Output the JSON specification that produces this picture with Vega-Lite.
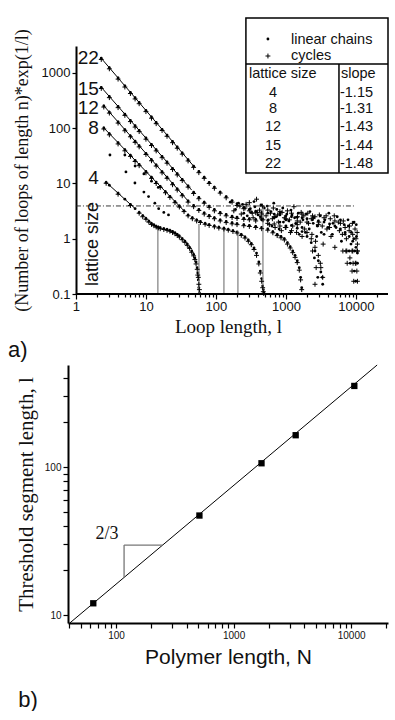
{
"$schema": "https://vega.github.io/schema/vega-lite/v6.json",
"background": "white",
"padding": {"top": 17, "left": 8, "right": 0, "bottom": 0},
"spacing": 2,
"config": {
  "view": {"stroke": null},
  "axis": {"domainColor": "#000", "domainWidth": 2, "tickColor": "#000", "tickWidth": 1.2, "labelColor": "#111", "titleColor": "#111", "labelFont": "Liberation Sans", "titleFontWeight": "normal", "grid": false, "labelOverlap": false, "labelFlush": false}
},
"datasets": {
  "pts": [
    {"x":2.7,"a":10.5,"b":10.1},{"x":3,"a":9.3},{"x":4,"a":6.7,"b":6.4},{"x":5,"a":5.2},{"x":6,"a":4.2,"b":4.0},{"x":7,"a":3.5},{"x":8,"a":3.0,"b":2.9},{"x":9,"a":2.63,"b":2.5},{"x":10,"a":2.33,"b":2.25},{"x":11,"a":2.08,"b":2.0},{"x":12,"a":1.89,"b":1.82},{"x":13,"a":1.78,"b":1.72},{"x":14,"a":1.68,"b":1.63},{"x":15,"a":1.62,"b":1.57},{"x":16,"a":1.58,"b":1.52},{"x":18,"a":1.53,"b":1.47},{"x":20,"a":1.48,"b":1.42},{"x":22,"a":1.42,"b":1.37},{"x":24,"a":1.36,"b":1.3},{"x":26,"a":1.28,"b":1.23},{"x":28,"a":1.2,"b":1.15},{"x":30,"a":1.12,"b":1.07},{"x":33,"a":1.0,"b":0.96},{"x":36,"a":0.9,"b":0.86},{"x":39,"a":0.8,"b":0.76},{"x":42,"a":0.7,"b":0.67},{"x":45,"a":0.6,"b":0.57},{"x":48,"a":0.52,"b":0.49},{"x":50,"a":0.45,"b":0.42},{"x":52,"a":0.38,"b":0.35},{"x":54,"a":0.3,"b":0.28},{"x":55,"a":0.24,"b":0.22},{"x":56,"a":0.18,"b":0.2},{"x":57,"a":0.13,"b":0.15},{"x":58,"a":0.105,"b":0.12},
    {"x":3.06,"a":32.8},{"x":5.0,"a":32.8},{"x":5.18,"a":16.2},{"x":7.0,"a":20.7},{"x":6.96,"a":10.2},{"x":9.35,"a":14.9},{"x":9.35,"a":7.0},{"x":10.9,"a":5.8},{"x":13.4,"a":4.4},{"x":15.2,"a":3.5},{"x":18,"a":3.0},{"x":12,"a":11},{"x":15,"a":8.5},{"x":21,"a":2.7},
    {"x":2.5,"a":101,"b":97},{"x":3,"a":80,"b":76},{"x":4,"a":55,"b":52},{"x":5,"a":41,"b":39},{"x":6,"a":32.4,"b":31},{"x":7,"a":26.3,"b":25},{"x":8,"a":22.2,"b":21},{"x":10,"a":16.5,"b":15.6},{"x":12,"a":13,"b":12.4},{"x":14,"a":10.6,"b":10},{"x":16,"a":8.9,"b":8.5},{"x":19,"a":7.1,"b":6.8},{"x":22,"a":5.86,"b":5.6},{"x":26,"a":4.71,"b":4.5},{"x":30,"a":3.91,"b":3.75},{"x":35,"a":3.2,"b":3.1},{"x":40,"a":2.68,"b":2.6},{"x":46,"a":2.4,"b":2.3},{"x":53,"a":2.2,"b":2.1},{"x":60,"a":2.05,"b":1.97},{"x":70,"a":1.9,"b":1.83},{"x":80,"a":1.8,"b":1.74},{"x":95,"a":1.7,"b":1.64},{"x":110,"a":1.62,"b":1.56},{"x":130,"a":1.55,"b":1.5},{"x":150,"a":1.48,"b":1.43},{"x":175,"a":1.4,"b":1.35},{"x":200,"a":1.32,"b":1.27},{"x":230,"a":1.2,"b":1.15},{"x":260,"a":1.08,"b":1.03},{"x":290,"a":0.95,"b":0.9},{"x":320,"a":0.82,"b":0.78},{"x":350,"a":0.68,"b":0.64},{"x":380,"a":0.55,"b":0.5},{"x":410,"a":0.38,"b":0.35},{"x":430,"a":0.26,"b":0.24},{"x":450,"a":0.19,"b":0.17},{"x":465,"a":0.14,"b":0.13},{"x":475,"a":0.12,"b":0.11},{"x":482,"a":0.105,"b":0.102},
    {"x":2.5,"a":254,"b":242},{"x":3,"a":196,"b":188},{"x":4,"a":130,"b":124},{"x":5,"a":94.7,"b":90},{"x":6,"a":72.9,"b":70},{"x":7,"a":58.3,"b":55.5},{"x":8,"a":48.2,"b":46},{"x":10,"a":35.1,"b":33.5},{"x":12,"a":27,"b":25.8},{"x":14,"a":21.7,"b":20.7},{"x":17,"a":16.4,"b":15.6},{"x":20,"a":13,"b":12.4},{"x":24,"a":10,"b":9.5},{"x":28,"a":8.0,"b":7.6},{"x":33,"a":6.3,"b":6.0},{"x":40,"a":4.84,"b":4.6},{"x":48,"a":4.0,"b":3.8},{"x":57,"a":3.4,"b":3.25},{"x":68,"a":2.95,"b":2.8},{"x":80,"a":2.65,"b":2.52},{"x":95,"a":2.4,"b":2.3},{"x":115,"a":2.2,"b":2.1},{"x":140,"a":2.05,"b":1.96},{"x":170,"a":1.95,"b":1.86},{"x":200,"a":1.88,"b":1.8},{"x":250,"a":1.8,"b":1.72},{"x":300,"a":1.75,"b":1.67},{"x":370,"a":1.68,"b":1.6},{"x":450,"a":1.6,"b":1.52},{"x":550,"a":1.5,"b":1.43},{"x":650,"a":1.35,"b":1.28},{"x":750,"a":1.2,"b":1.14},{"x":850,"a":1.1,"b":1.04},{"x":950,"a":1.0,"b":0.95},{"x":1050,"a":0.85,"b":0.8},{"x":1150,"a":0.72,"b":0.68},{"x":1250,"a":0.6,"b":0.56},{"x":1350,"a":0.5,"b":0.46},{"x":1450,"a":0.4,"b":0.37},{"x":1550,"a":0.3,"b":0.27},{"x":1620,"a":0.2,"b":0.18},{"x":1680,"a":0.13,"b":0.12},
    {"x":2.3,"a":551,"b":525},{"x":3,"a":376,"b":358},{"x":4,"a":248,"b":236},{"x":5,"a":180,"b":171},{"x":6,"a":138.6,"b":132},{"x":7,"a":110.8,"b":105},{"x":8,"a":91.4,"b":87},{"x":10,"a":66.5,"b":63.3},{"x":12,"a":51.1,"b":48.7},{"x":14,"a":40.8,"b":38.9},{"x":17,"a":30.8,"b":29.3},{"x":20,"a":24.5,"b":23.3},{"x":24,"a":18.8,"b":17.9},{"x":28,"a":15.0,"b":14.3},{"x":33,"a":11.9,"b":11.3},{"x":40,"a":9.0,"b":8.6},{"x":48,"a":6.95,"b":6.6},{"x":57,"a":5.6,"b":5.3},{"x":68,"a":4.6,"b":4.4},{"x":80,"a":3.9,"b":3.7},{"x":95,"a":3.4,"b":3.2},{"x":115,"a":3.0,"b":2.85},{"x":140,"a":2.75,"b":2.6},{"x":170,"a":2.55,"b":2.42},{"x":200,"a":2.45,"b":2.33},{"x":250,"a":2.35,"b":2.24},{"x":300,"a":2.3,"b":2.2},{"x":370,"a":2.25,"b":2.1},{"x":450,"a":2.2,"b":2.3},{"x":550,"a":2.15,"b":1.9},{"x":680,"a":2.4,"b":1.85},{"x":820,"a":2.0,"b":1.7},{"x":1000,"a":2.2,"b":1.6},{"x":1200,"a":1.75,"b":1.4},{"x":1450,"a":1.55,"b":1.8},{"x":1700,"a":1.35,"b":1.1},{"x":2000,"a":1.1,"b":1.3},{"x":2300,"a":0.85,"b":1.0},{"x":2600,"a":0.6,"b":0.7},{"x":2900,"a":0.4,"b":0.5},{"x":3150,"a":0.25,"b":0.3},{"x":3350,"a":0.15,"b":0.2},
    {"x":2.3,"a":1846,"b":1760},{"x":3,"a":1246,"b":1190},{"x":4,"a":814,"b":775},{"x":5,"a":585,"b":557},{"x":6,"a":447,"b":425},{"x":7,"a":356,"b":339},{"x":8,"a":292,"b":278},{"x":10,"a":210,"b":200},{"x":12,"a":160,"b":152},{"x":14,"a":127,"b":121},{"x":17,"a":95.6,"b":91},{"x":20,"a":75.1,"b":71.5},{"x":24,"a":57.5,"b":54.8},{"x":28,"a":45.7,"b":43.5},{"x":33,"a":35.8,"b":34},{"x":40,"a":26.9,"b":25.6},{"x":48,"a":20.6,"b":19.6},{"x":57,"a":16.5,"b":15.7},{"x":68,"a":13,"b":12.4},{"x":80,"a":10.5,"b":10},{"x":95,"a":8.6,"b":8.2},{"x":115,"a":7.0,"b":6.7},{"x":140,"a":5.8,"b":5.5},{"x":170,"a":4.9,"b":4.6},{"x":200,"a":4.3,"b":4.0},{"x":250,"a":3.7,"b":3.5},{"x":300,"a":3.4,"b":3.2},{"x":370,"a":3.15,"b":2.95},{"x":450,"a":3.0,"b":2.8},{"x":550,"a":2.9,"b":3.3},{"x":680,"a":2.8,"b":2.5},{"x":820,"a":2.7,"b":3.1},{"x":1000,"a":2.6,"b":2.3},{"x":1200,"a":2.5,"b":2.9},{"x":1450,"a":2.45,"b":2.1},{"x":1700,"a":2.4,"b":2.8},{"x":2000,"a":2.3,"b":2.0},{"x":2400,"a":2.2,"b":2.6},{"x":2900,"a":2.1,"b":1.8},{"x":3500,"a":2.0,"b":2.4},{"x":4200,"a":1.85,"b":1.6},{"x":5000,"a":1.7,"b":2.1},{"x":6000,"a":1.5,"b":1.9},{"x":7000,"a":1.3,"b":1.6},{"x":8000,"a":1.1,"b":1.4},{"x":9000,"a":0.9,"b":1.2},{"x":10000,"a":0.7,"b":1.0},{"x":10500,"a":0.55,"b":0.8},
    {"x":160,"a":4.6},{"x":180,"b":3.2},{"x":210,"a":4.4},{"x":230,"b":2.8},{"x":240,"a":4.2},{"x":260,"b":3.6},{"x":280,"a":2.6},{"x":300,"b":4.5},{"x":320,"a":3.0},{"x":340,"b":2.4},{"x":360,"a":3.8},{"x":380,"b":5.2},{"x":400,"a":2.7},{"x":420,"b":3.3},{"x":440,"a":4.1},{"x":470,"b":2.2},{"x":490,"a":3.6},
    {"x":190,"a":3.4},{"x":220,"b":3.9},{"x":250,"a":2.9},{"x":270,"b":4.2},{"x":310,"a":3.5},{"x":330,"b":2.9},{"x":350,"a":4.7},{"x":390,"b":3.0},{"x":430,"a":2.5},{"x":460,"b":3.9},
    {"x":520,"b":2.6},{"x":540,"a":3.9},{"x":580,"b":1.8},{"x":610,"a":3.1},{"x":640,"b":2.3},{"x":670,"a":4.4},{"x":700,"b":1.6},{"x":740,"a":3.4},{"x":780,"b":2.0},{"x":820,"a":2.9},{"x":860,"b":1.4},{"x":900,"a":3.6},{"x":950,"b":2.4},{"x":1000,"a":1.7},{"x":1050,"b":3.2},{"x":1100,"a":2.1},{"x":1160,"b":1.3},{"x":1220,"a":2.7},{"x":1300,"b":3.8},{"x":1380,"a":1.9},{"x":1460,"b":2.5},{"x":1550,"a":1.2},{"x":1650,"b":3.0},{"x":1750,"a":2.2},{"x":1850,"b":1.5},{"x":1950,"a":2.8},
    {"x":560,"a":2.2},{"x":600,"b":2.9},{"x":630,"a":1.7},{"x":660,"b":3.6},{"x":720,"a":2.5},{"x":760,"b":2.7},{"x":800,"a":1.5},{"x":880,"b":3.0},{"x":920,"a":2.0},{"x":980,"b":1.6},{"x":1030,"a":2.8},{"x":1120,"b":2.2},{"x":1180,"a":3.3},{"x":1250,"b":1.7},{"x":1330,"a":2.4},{"x":1420,"b":1.3},{"x":1500,"a":2.9},{"x":1600,"b":2.0},{"x":1700,"a":1.6},{"x":1800,"b":2.6},{"x":1900,"a":1.3},{"x":2050,"b":2.9},{"x":2150,"a":1.5},{"x":2300,"b":2.3},{"x":2450,"a":1.9},{"x":2600,"b":2.5},{"x":2750,"a":1.1},{"x":2950,"b":2.0},{"x":3100,"a":2.6},{"x":3300,"b":1.7},{"x":3500,"a":1.2},{"x":3750,"b":2.6},{"x":4000,"a":1.6},{"x":4300,"b":2.3},{"x":4600,"a":1.2},{"x":4900,"b":2.6},{"x":5200,"a":1.6},{"x":5600,"b":2.0},{"x":6000,"a":2.2},{"x":6400,"b":1.2},{"x":6800,"a":1.8},{"x":7300,"b":1.0},{"x":7700,"a":2.2},{"x":8100,"b":1.7},{"x":8500,"a":0.8},{"x":8900,"b":1.9},{"x":9300,"a":1.0},{"x":9700,"b":1.5},{"x":10100,"a":1.8},{"x":10400,"b":1.3},
    {"x":2100,"b":1.9},{"x":2200,"a":3.1},{"x":2350,"b":1.2},{"x":2500,"a":2.4},{"x":2650,"b":0.9},{"x":2800,"a":1.7},{"x":3000,"b":2.7},{"x":3200,"a":1.3},{"x":3400,"b":0.8},{"x":3600,"a":2.2},{"x":3850,"b":1.5},{"x":4100,"a":2.9},{"x":4400,"b":1.1},{"x":4700,"a":1.9},{"x":5000,"b":0.7},{"x":5400,"a":2.5},{"x":5800,"b":1.4},{"x":6200,"a":0.9},{"x":6600,"b":2.1},{"x":7000,"a":1.2},{"x":7400,"b":0.6},{"x":7800,"a":1.7},{"x":8200,"b":0.45},{"x":8600,"a":1.3},{"x":9000,"b":0.6},{"x":9400,"a":2.0},{"x":9800,"b":0.36},{"x":10200,"a":1.1},{"x":10500,"b":0.6},
    {"x":6500,"b":0.6},{"x":7200,"b":0.6},{"x":8000,"a":0.6},{"x":8800,"b":0.6},{"x":9600,"a":0.6},{"x":10400,"b":0.6},{"x":7500,"b":0.36},{"x":8300,"a":0.36},{"x":9100,"b":0.36},{"x":10000,"b":0.36},{"x":10500,"a":0.36},{"x":8800,"b":0.26},{"x":9500,"a":0.26},{"x":10300,"b":0.26},{"x":9300,"b":0.17},{"x":9900,"a":0.17},{"x":10500,"b":0.17},
    {"x":2400,"b":0.6},{"x":2550,"a":0.45},{"x":2700,"b":0.3},{"x":2850,"a":0.2},{"x":2600,"b":0.15},{"x":3100,"b":0.36},{"x":3300,"a":0.2},
    {"x":553,"a":4125},{"x":553,"b":2030}
  ],
  "fit": [
    {"L":22,"x":2.28,"y":1870},{"L":22,"x":48.5,"y":20.3},
    {"L":15,"x":2.28,"y":558},{"L":15,"x":45,"y":7.6},
    {"L":12,"x":2.51,"y":253},{"L":12,"x":40,"y":4.83},
    {"L":8,"x":2.51,"y":101},{"L":8,"x":35,"y":3.2},
    {"L":4,"x":2.68,"y":10.6},{"L":4,"x":6.96,"y":3.54}
  ],
  "vl": [{"x":14.8,"y":1.6,"y2":0.1},{"x":57.2,"y":1.85,"y2":0.1},{"x":130,"y":1.5,"y2":0.1},{"x":206,"y":1.4,"y2":0.1},{"x":469,"y":4.0,"y2":0.1}],
  "dash": [{"x":1,"x2":9360,"y":3.92}],
  "base": [{"x":1,"x2":28700,"y":0.1}],
  "lab": [{"x":2.13,"y":1870,"t":"22"},{"x":2.13,"y":513,"t":"15"},{"x":2.13,"y":233,"t":"12"},{"x":2.13,"y":101,"t":"8"},{"x":2.13,"y":12.6,"t":"4"}],
  "box": [{"x":268,"x2":28700,"y":9890,"y2":15.5}],
  "seps": [{"x":268,"x2":28700,"y":1455,"y2":1455},{"x":5720,"x2":5720,"y":1455,"y2":15.5}],
  "legL": [{"x":1180,"y":3960,"t":"linear chains"},{"x":1180,"y":2030,"t":"cycles"},{"x":296,"y":959,"t":"lattice size"},{"x":6100,"y":959,"t":"slope"},{"x":5910,"y":435,"t":"-1.15"},{"x":5910,"y":223,"t":"-1.31"},{"x":5910,"y":105,"t":"-1.43"},{"x":5910,"y":47.7,"t":"-1.44"},{"x":5910,"y":22.5,"t":"-1.48"}],
  "legC": [{"x":652,"y":435,"t":"4"},{"x":652,"y":223,"t":"8"},{"x":652,"y":105,"t":"12"},{"x":652,"y":47.7,"t":"15"},{"x":652,"y":22.5,"t":"22"}],
  "fitb": [{"x":40.4,"y":8.83},{"x":16650,"y":489}],
  "tri": [{"x":117,"x2":117,"y":17.9,"y2":29.7},{"x":117,"x2":249,"y":29.7,"y2":29.7}],
  "ptsb": [{"x":64,"y":12},{"x":512,"y":47},{"x":1728,"y":106},{"x":3375,"y":164},{"x":10648,"y":353}]
},
"vconcat": [
  {
    "width": 320, "height": 248,
    "title": {"text": "a)", "orient": "bottom", "anchor": "start", "frame": "bounds", "font": "Liberation Sans", "fontSize": 22, "fontWeight": "normal", "color": "#111", "offset": 4, "dx": -5},
    "layer": [
      {"data": {"name": "pts"}, "mark": {"type": "point", "filled": true, "shape": "circle", "size": 8, "color": "#000", "opacity": 1},
       "encoding": {
         "x": {"field": "x", "type": "quantitative", "scale": {"type": "log", "domain": [0.77, 28700], "nice": false},
               "axis": {"title": "Loop length, l", "titleFont": "Liberation Serif", "titleFontSize": 19, "titlePadding": 4, "domain": false,
                        "values": [1,2,3,4,5,6,7,8,9,10,20,30,40,50,60,70,80,90,100,200,300,400,500,600,700,800,900,1000,2000,3000,4000,5000,6000,7000,8000,9000,10000,20000],
                        "format": "~g", "labelExpr": "indexof([1,10,100,1000,10000], datum.value) >= 0 ? datum.label : ''",
                        "labelFontSize": 13, "labelPadding": 1,
                        "tickSize": {"condition": {"test": "indexof([1,10,100,1000,10000], datum.value) >= 0", "value": 5}, "value": 3}}},
         "y": {"field": "a", "type": "quantitative", "scale": {"type": "log", "domain": [0.1, 3080], "nice": false},
               "axis": {"title": "(Number of loops of length n)*exp(1/l)", "titleFont": "Liberation Serif", "titleFontSize": 18, "titlePadding": 10, "offset": -8,
                        "values": [0.1, 1, 10, 100, 1000], "format": "~g", "labelFontSize": 13, "tickSize": 4, "labelPadding": 2}}
       }},
      {"data": {"name": "vl"}, "mark": {"type": "rule", "color": "#888", "strokeWidth": 1.3},
       "encoding": {"x": {"field": "x", "type": "quantitative"}, "y": {"field": "y", "type": "quantitative"}, "y2": {"field": "y2"}}},
      {"data": {"name": "dash"}, "mark": {"type": "rule", "color": "#222", "strokeWidth": 0.9, "strokeDash": [5, 2, 1, 2]},
       "encoding": {"x": {"field": "x", "type": "quantitative"}, "x2": {"field": "x2"}, "y": {"field": "y", "type": "quantitative"}}},
      {"data": {"name": "base"}, "mark": {"type": "rule", "color": "#000", "strokeWidth": 2},
       "encoding": {"x": {"field": "x", "type": "quantitative"}, "x2": {"field": "x2"}, "y": {"field": "y", "type": "quantitative"}}},
      {"data": {"name": "fit"}, "mark": {"type": "line", "color": "#000", "strokeWidth": 1},
       "encoding": {"x": {"field": "x", "type": "quantitative"}, "y": {"field": "y", "type": "quantitative"}, "detail": {"field": "L", "type": "nominal"}}},
      {"data": {"name": "pts"}, "mark": {"type": "point", "filled": false, "shape": "M-1,0H1M0,-1V1", "size": 24, "color": "#000", "strokeWidth": 1, "opacity": 1},
       "encoding": {"x": {"field": "x", "type": "quantitative"}, "y": {"field": "b", "type": "quantitative"}}},
      {"data": {"name": "lab"}, "mark": {"type": "text", "align": "right", "baseline": "middle", "font": "Liberation Sans", "fontSize": 19, "color": "#111"},
       "encoding": {"x": {"field": "x", "type": "quantitative"}, "y": {"field": "y", "type": "quantitative"}, "text": {"field": "t"}}},
      {"data": {"values": [{"x": 1.75, "y": 0.8, "t": "lattice size"}]}, "mark": {"type": "text", "angle": 270, "align": "center", "baseline": "middle", "font": "Liberation Sans", "fontSize": 18, "color": "#111"},
       "encoding": {"x": {"field": "x", "type": "quantitative"}, "y": {"field": "y", "type": "quantitative"}, "text": {"field": "t"}}},
      {"data": {"name": "box"}, "mark": {"type": "rect", "fill": "transparent", "stroke": "#000", "strokeWidth": 1.5},
       "encoding": {"x": {"field": "x", "type": "quantitative"}, "x2": {"field": "x2"}, "y": {"field": "y", "type": "quantitative"}, "y2": {"field": "y2"}}},
      {"data": {"name": "seps"}, "mark": {"type": "rule", "color": "#000", "strokeWidth": 1.5},
       "encoding": {"x": {"field": "x", "type": "quantitative"}, "x2": {"field": "x2"}, "y": {"field": "y", "type": "quantitative"}, "y2": {"field": "y2"}}},
      {"data": {"name": "legL"}, "mark": {"type": "text", "align": "left", "baseline": "middle", "font": "Liberation Sans", "fontSize": 14.5, "color": "#111"},
       "encoding": {"x": {"field": "x", "type": "quantitative"}, "y": {"field": "y", "type": "quantitative"}, "text": {"field": "t"}}},
      {"data": {"name": "legC"}, "mark": {"type": "text", "align": "center", "baseline": "middle", "font": "Liberation Sans", "fontSize": 14.5, "color": "#111"},
       "encoding": {"x": {"field": "x", "type": "quantitative"}, "y": {"field": "y", "type": "quantitative"}, "text": {"field": "t"}}}
    ]
  },
  {
    "width": 320, "height": 258,
    "title": {"text": "b)", "orient": "bottom", "anchor": "start", "frame": "bounds", "font": "Liberation Sans", "fontSize": 22, "fontWeight": "normal", "color": "#111", "offset": 23, "dx": 3},
    "layer": [
      {"data": {"name": "fitb"}, "mark": {"type": "line", "color": "#000", "strokeWidth": 1},
       "encoding": {
         "x": {"field": "x", "type": "quantitative", "scale": {"type": "log", "domain": [39, 20600], "nice": false},
               "axis": {"title": "Polymer length, N", "titleFont": "Liberation Sans", "titleFontSize": 21, "titlePadding": 6,
                        "values": [40,50,60,70,80,90,100,200,300,400,500,600,700,800,900,1000,2000,3000,4000,5000,6000,7000,8000,9000,10000,20000],
                        "format": "~g", "labelExpr": "indexof([100,1000,10000], datum.value) >= 0 ? datum.label : ''",
                        "labelFontSize": 10, "labelPadding": 2, "tickSize": 5}},
         "y": {"field": "y", "type": "quantitative", "scale": {"type": "log", "domain": [8.83, 489], "nice": false},
               "axis": {"title": "Threshold segment length, l", "titleFont": "Liberation Serif", "titleFontSize": 21, "titlePadding": 8,
                        "values": [10,20,30,40,50,60,70,80,90,100,200,300,400], "format": "~g",
                        "labelExpr": "indexof([10,100], datum.value) >= 0 ? datum.label : ''",
                        "labelFontSize": 10, "labelPadding": 2, "tickSize": 5}}
       }},
      {"data": {"name": "tri"}, "mark": {"type": "rule", "color": "#777", "strokeWidth": 1.3},
       "encoding": {"x": {"field": "x", "type": "quantitative"}, "x2": {"field": "x2"}, "y": {"field": "y", "type": "quantitative"}, "y2": {"field": "y2"}}},
      {"data": {"values": [{"x": 83.8, "y": 35.2, "t": "2/3"}]}, "mark": {"type": "text", "align": "center", "baseline": "middle", "font": "Liberation Serif", "fontSize": 18, "color": "#111"},
       "encoding": {"x": {"field": "x", "type": "quantitative"}, "y": {"field": "y", "type": "quantitative"}, "text": {"field": "t"}}},
      {"data": {"name": "ptsb"}, "mark": {"type": "point", "shape": "square", "filled": true, "size": 40, "color": "#000", "opacity": 1},
       "encoding": {"x": {"field": "x", "type": "quantitative"}, "y": {"field": "y", "type": "quantitative"}}}
    ]
  }
]
}
